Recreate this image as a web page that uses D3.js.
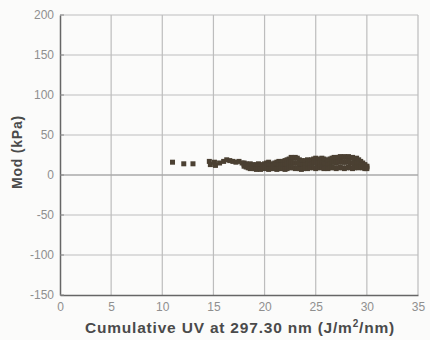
<!DOCTYPE html>
<html><head><meta charset="utf-8">
<script src="https://cdn.jsdelivr.net/npm/d3@7"></script>
<style>body{margin:0;background:#fbfbfa}svg{display:block}</style>
</head><body>
<svg id="c" width="430" height="340"></svg>
<script>
const xTicks = [0,5,10,15,20,25,30,35];
const yTicks = [-150,-100,-50,0,50,100,150,200];
// sparse early points
const sparseX = [11.0,12.1,13.0,14.6,14.7,15.1,15.2,15.6,16.0,16.3,16.6,16.9,17.2,17.5,17.8];
const sparseY = [16,14,14,17,13,16,12,15,17,19,18,17,16,17,15];
// dense band
const bandX = [18.0,18.2,18.4,18.6,18.8,19.0,19.2,19.4,19.6,19.8,20.0,20.2,20.4,20.6,20.8,21.0,21.2,21.4,21.6,21.8,22.0,22.2,22.4,22.6,22.8,23.0,23.2,23.4,23.6,23.8,24.0,24.2,24.4,24.6,24.8,25.0,25.2,25.4,25.6,25.8,26.0,26.2,26.4,26.6,26.8,27.0,27.2,27.4,27.6,27.8,28.0,28.2,28.4,28.6,28.8,29.0,29.2,29.4,29.6,29.8,30.0];
const bandHigh = [15,14,13,14,13,12,13,14,13,12,14,15,16,14,13,15,16,17,15,17,18,19,20,22,21,22,21,19,18,17,18,19,18,19,20,21,20,19,21,20,19,18,20,21,22,21,22,23,22,23,22,23,21,22,20,21,19,17,15,13,11];
const bandMid = [13,12,11,11,11,10,10,11,10,10,11,12,12,11,11,12,12,13,12,13,13,14,15,16,15,15,15,14,13,12,13,14,13,14,15,15,14,15,15,14,14,13,14,16,16,15,16,17,16,16,16,17,15,15,14,15,14,13,12,11,10];
const bandLow = [11,10,9,8,9,8,7,8,7,8,9,8,7,8,9,8,7,8,9,8,7,8,9,10,9,8,9,8,7,8,9,8,9,10,9,8,9,10,9,8,9,8,9,10,9,8,9,10,9,8,9,10,9,8,9,10,9,10,9,8,8];

const svg = d3.select("#c");
const L=60, R=418, T=15, B=295;
const x = d3.scaleLinear().domain([0,35]).range([L,R]);
const y = d3.scaleLinear().domain([-150,200]).range([B,T]);

// grid
svg.append("g").selectAll("line").data(xTicks.slice(1)).join("line")
  .attr("x1",d=>x(d)).attr("x2",d=>x(d)).attr("y1",T).attr("y2",B)
  .attr("stroke","#bdbdbd").attr("stroke-width",1.2);
svg.append("g").selectAll("line").data(yTicks.slice(1)).join("line")
  .attr("x1",L).attr("x2",R).attr("y1",d=>y(d)).attr("y2",d=>y(d))
  .attr("stroke","#bdbdbd").attr("stroke-width",1.2);
svg.append("line").attr("x1",L).attr("x2",R).attr("y1",y(0)).attr("y2",y(0)).attr("stroke","#a0a0a0").attr("stroke-width",1.2);

// axes
const fmt = d => String(d);
const xa = svg.append("g").attr("transform",`translate(0,${B})`)
  .call(d3.axisBottom(x).tickValues(xTicks).tickFormat(fmt).tickSize(0).tickPadding(7));
const ya = svg.append("g").attr("transform",`translate(${L},0)`)
  .call(d3.axisLeft(y).tickValues(yTicks).tickFormat(fmt).tickSize(0).tickPadding(6));
[xa,ya].forEach(g=>{
  g.select(".domain").attr("stroke","#666").attr("stroke-width",1.5);
  g.selectAll("text").attr("fill","#8f8f8f").attr("font-family","Liberation Sans, Arial").attr("font-size",12);
});
// inward ticks on left axis
svg.append("g").selectAll("line").data(yTicks).join("line")
  .attr("x1",L).attr("x2",L+4).attr("y1",d=>y(d)).attr("y2",d=>y(d)).attr("stroke","#888");

// data
const pts = [];
sparseX.forEach((v,i)=>pts.push([v,sparseY[i]]));
[bandHigh,bandMid,bandLow].forEach(s=>bandX.forEach((v,i)=>pts.push([v,s[i]])));
svg.append("g").selectAll("rect").data(pts).join("rect")
  .attr("x",d=>x(d[0])-2.5).attr("y",d=>y(d[1])-2.5)
  .attr("width",5).attr("height",5).attr("fill","#4b4032");

// titles
const xt = svg.append("text").attr("x",240).attr("y",333).attr("text-anchor","middle")
  .attr("font-family","Liberation Sans, Arial").attr("font-weight","bold").attr("font-size",15.5)
  .attr("letter-spacing",0.8).attr("fill","#4a4a4a");
xt.append("tspan").text("Cumulative UV at 297.30 nm (J/m");
xt.append("tspan").attr("font-size",10).attr("dy",-6).text("2");
xt.append("tspan").attr("dy",6).text("/nm)");
svg.append("text").attr("transform",`translate(22,152) rotate(-90)`).attr("text-anchor","middle")
  .attr("font-family","Liberation Sans, Arial").attr("font-weight","bold").attr("font-size",14)
  .attr("letter-spacing",0.8).attr("fill","#4a4a4a")
  .text("Mod (kPa)");
</script>
</body></html>
